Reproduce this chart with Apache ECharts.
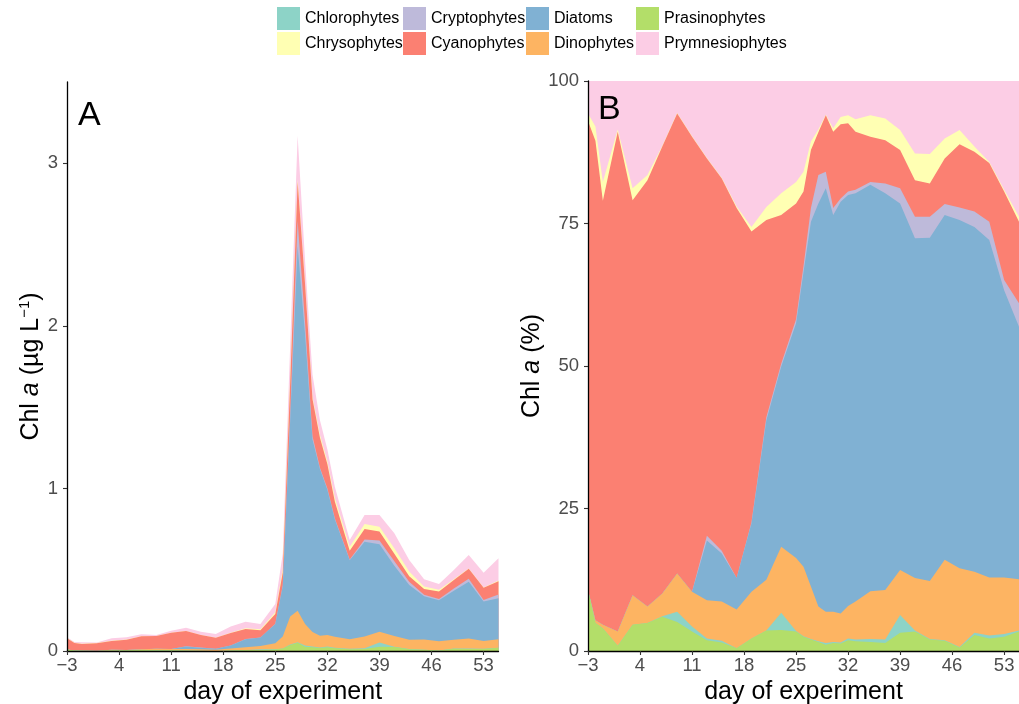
<!DOCTYPE html>
<html><head><meta charset="utf-8">
<script src="https://cdn.jsdelivr.net/npm/echarts@6/dist/echarts.min.js"></script>
<style>html,body{margin:0;padding:0;background:#fff}#c{width:1019px;height:704px}</style>
</head><body><div id="c"></div>
<script>
// sampling days
const days = [-3,-2,-1,1,3,5,7,9,11,13,15,17,19,21,23,25,26,27,28,29,30,31,32,33,35,37,39,41,43,45,47,49,51,53,55];
const xTicks = [-3,4,11,18,25,32,39,46,53];
const yTicksA = [0,1,2,3];
const yTicksB = [0,25,50,75,100];

// total Chl a (ug/L), panel A outline
const totalChl = [0.084,0.055,0.054,0.053,0.078,0.084,0.103,0.098,0.125,0.143,0.119,0.105,0.150,0.180,0.166,0.289,0.60,1.88,3.17,2.40,1.70,1.42,1.24,1.01,0.683,0.837,0.837,0.724,0.56,0.441,0.412,0.498,0.591,0.482,0.570];

// percentage of Chl a per group (panel B)
const prasinophytes = [10.7,4.9,4.0,0.9,4.6,4.9,6.0,5.1,3.4,1.9,1.5,0.5,2.2,3.6,3.7,3.4,2.5,2.0,1.6,1.1,1.4,1.3,1.9,1.7,1.6,1.4,3.2,3.4,2.0,1.8,0.6,2.8,2.2,2.5,3.4];
const chlorophytes = [0,0,0,0,0,0,0.1,1.8,0.9,0.3,0.3,0,0,0,3.0,0.1,0.1,0.1,0.1,0.3,0.2,0.2,0.3,0.3,0.5,0.6,3.1,0.2,0.1,0.1,0.1,0.4,0.5,0.5,0.2];
const dinophytes = [0,0.5,0.6,2.5,5.2,2.9,4.0,6.7,6.1,6.7,6.9,6.8,8.2,8.9,11.6,12.8,12.2,9.2,6.1,5.5,5.3,5.1,5.7,6.7,8.4,8.7,7.9,9.2,10.2,14.1,13.8,10.7,10.2,9.9,9.0];
const diatoms = [0,0,0,0,0,0,0,0,0,10.5,8.4,5.5,12.0,28.0,31.6,41.2,51.7,64.0,70.7,74.3,69.6,72.2,72.1,71.6,71.3,69.6,64.3,59.6,60.2,60.5,61.1,60.5,59.2,50.4,44.3];
const cryptophytes = [0,0,0,0,0,0,0,0,0,0.8,0.5,0,0.2,0.5,0.5,0.7,1.0,2.4,5.0,2.9,1.2,0.6,0.6,0.6,0.5,1.7,2.7,3.8,3.7,1.9,2.2,2.7,3.2,1.8,4.1];
const cyanophytes = [82.3,84.1,74.4,87.7,69.3,74.8,78.4,80.7,79.8,66.2,65.3,64.9,51.0,34.6,26.1,20.3,13.1,10.2,7.5,9.9,13.4,13.0,12.0,10.2,7.9,7.6,6.7,6.4,5.8,8.0,11.1,10.5,10.3,15.5,14.3];
const chrysophytes = [1.3,2.5,3.3,0.4,2.1,0.9,0.1,0.1,0.1,0.1,0.1,0.3,0.8,2.3,3.8,3.8,3.5,1.5,0.5,0.1,0.6,1.3,1.4,2.2,3.8,3.8,3.5,4.7,5.2,3.5,2.5,0.9,0.2,0.3,0.9];
const prymnesiophytes = [5.7,8.0,17.7,8.5,18.8,16.5,11.4,5.6,9.7,13.5,17.0,22.0,25.6,22.1,19.7,17.7,15.9,10.6,8.5,5.9,8.3,6.3,6.0,6.7,6.0,6.6,8.6,12.7,12.8,10.1,8.6,11.5,14.2,19.1,23.8];

// stacking order bottom -> top
const groups = [
  ['Prasinophytes', prasinophytes, '#B3DE69'],
  ['Chlorophytes', chlorophytes, '#8DD3C7'],
  ['Dinophytes', dinophytes, '#FDB462'],
  ['Diatoms', diatoms, '#80B1D3'],
  ['Cryptophytes', cryptophytes, '#BEBADA'],
  ['Cyanophytes', cyanophytes, '#FB8072'],
  ['Chrysophytes', chrysophytes, '#FFFFB3'],
  ['Prymnesiophytes', prymnesiophytes, '#FCCDE5']
];
const legendCols = [['Chlorophytes','Chrysophytes'],['Cryptophytes','Cyanophytes'],['Diatoms','Dinophytes'],['Prasinophytes','Prymnesiophytes']];

const FF = '"Liberation Sans", Arial, Helvetica, sans-serif';
const chart = echarts.init(document.getElementById('c'), null, {renderer:'canvas'});

function xAxis(gi){
  return {type:'value', gridIndex:gi, min:-3, max:55, z:5,
    name:'day of experiment', nameLocation:'middle', nameGap:21,
    nameTextStyle:{fontSize:25,color:'#000',fontFamily:FF},
    axisLine:{show:true,onZero:false,lineStyle:{color:'#000',width:1.3}},
    axisTick:{show:true,length:4,lineStyle:{color:'#333',width:1.1},customValues:xTicks},
    axisLabel:{fontSize:18.5,color:'#4d4d4d',fontFamily:FF,margin:5,customValues:xTicks,
      formatter:v=>String(v).replace('-','\u2212')},
    splitLine:{show:false}};
}
function yAxis(gi,max,ticks,name,gap){
  return {type:'value', gridIndex:gi, min:0, max:max, z:5,
    name:name, nameLocation:'middle', nameGap:gap, nameRotate:90,
    nameTextStyle:{fontSize:25,color:'#000',fontFamily:FF,
      rich:{i:{fontSize:25,fontStyle:'italic',fontFamily:FF,color:'#000'},
            s:{fontSize:15,fontFamily:FF,color:'#000',verticalAlign:'top',padding:[0,0,12,0]}}},
    axisLine:{show:true,onZero:false,lineStyle:{color:'#000',width:1.3}},
    axisTick:{show:true,length:4,lineStyle:{color:'#333',width:1.1},customValues:ticks},
    axisLabel:{fontSize:18.5,color:'#4d4d4d',fontFamily:FF,margin:9,customValues:ticks},
    splitLine:{show:false}};
}

// cumulative tops (own stacking); draw top layer first so lower layers paint over it
const cumB = [], cumA = [];
let run = days.map(()=>0);
groups.forEach(([name,pct])=>{
  run = run.map((r,i)=>r+pct[i]);
  cumB.push(run.slice());
  cumA.push(run.map((r,i)=>r*totalChl[i]/100));
});

const series = [];
for (let k = groups.length-1; k >= 0; k--) {
  const [name,,col] = groups[k];
  const base = {type:'line', name:name, symbol:'none', showSymbol:false, silent:true,
    color:col, itemStyle:{color:col}, lineStyle:{width:0}, areaStyle:{color:col,opacity:1,origin:'start'}, z:2};
  series.push(Object.assign({}, base, {xAxisIndex:0, yAxisIndex:0,
    data: days.map((d,i)=>[d, cumA[k][i]])}));
  series.push(Object.assign({}, base, {xAxisIndex:1, yAxisIndex:1,
    data: days.map((d,i)=>[d, cumB[k][i]])}));
}

chart.setOption({
  animation:false,
  backgroundColor:'#fff',
  textStyle:{fontFamily:FF},
  grid:[
    {left:67, top:82, width:431.5, height:569, containLabel:false, outerBoundsMode:'none'},
    {left:588, top:81, width:431, height:570, containLabel:false, outerBoundsMode:'none'}
  ],
  xAxis:[xAxis(0), xAxis(1)],
  yAxis:[yAxis(0,3.5,yTicksA,'Chl {i|a} (\u00b5g L{s|\u22121})',22), yAxis(1,100,yTicksB,'Chl {i|a} (%)',43)],
  legend: legendCols.map((c,k)=>({data:c, left:[277,403,526,636][k], top:7, orient:'vertical',
    itemWidth:23, itemHeight:23, itemGap:2, icon:'rect', padding:0, selectedMode:false,
    textStyle:{fontSize:16,color:'#000',fontFamily:FF}})),
  graphic:[
    {type:'text', z:100, left:78, top:99, style:{text:'A', fontSize:34, fill:'#000', fontFamily:FF}},
    {type:'text', z:100, left:598, top:93, style:{text:'B', fontSize:34, fill:'#000', fontFamily:FF}}
  ],
  series: series
});
</script></body></html>
